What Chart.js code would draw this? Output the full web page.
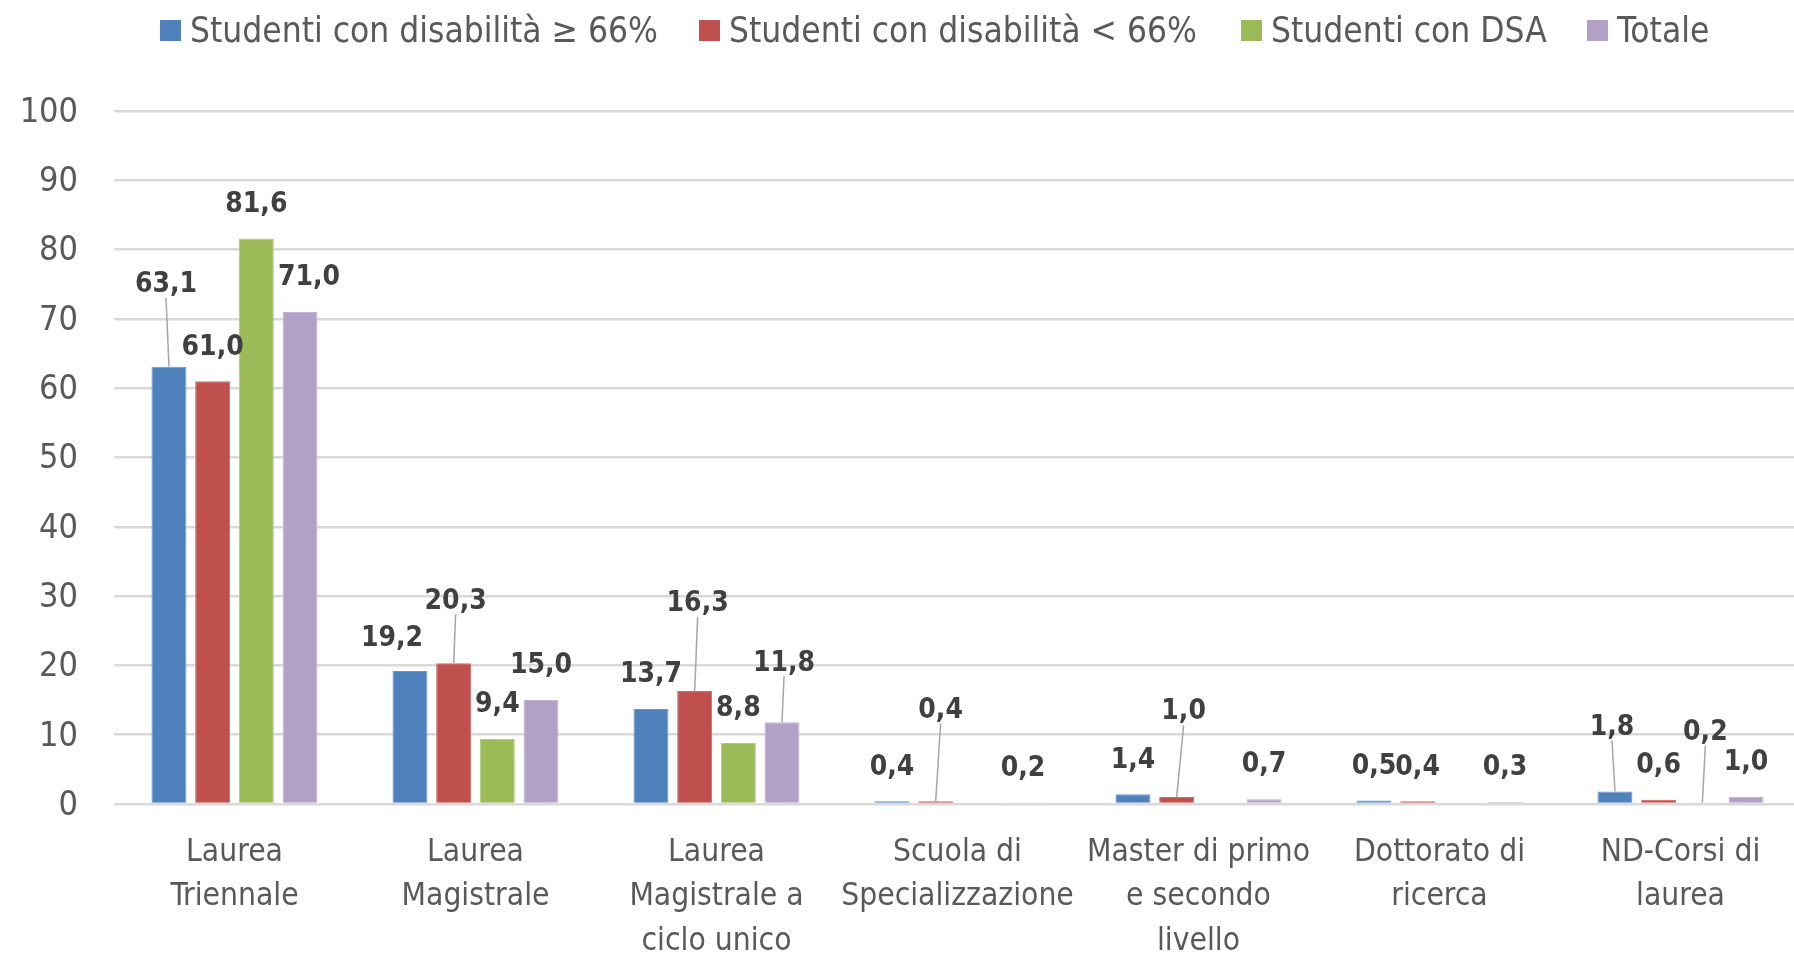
<!DOCTYPE html>
<html lang="it">
<head>
<meta charset="utf-8">
<title>Studenti con disabilità e con DSA per tipo di corso</title>
<script src="https://cdn.jsdelivr.net/npm/chart.js@4.4.1/dist/chart.umd.min.js"></script>
<style>
  html, body { margin: 0; padding: 0; background: #ffffff; overflow: hidden; }
  #wrap { width: 1794px; height: 953px; overflow: hidden; }
</style>
</head>
<body>
<div id="wrap"><canvas id="chart" width="1801" height="953"></canvas></div>
<script>
// Data
const categories = [
    ['Laurea', 'Triennale'],
    ['Laurea', 'Magistrale'],
    ['Laurea', 'Magistrale a', 'ciclo unico'],
    ['Scuola di', 'Specializzazione'],
    ['Master di primo', 'e secondo', 'livello'],
    ['Dottorato di', 'ricerca'],
    ['ND-Corsi di', 'laurea']
];
const seriesNames = ['Studenti con disabilità ≥ 66%', 'Studenti con disabilità < 66%', 'Studenti con DSA', 'Totale'];
const disabOver66 = [63.1, 19.2, 13.7, 0.4, 1.4, 0.5, 1.8];
const disabUnder66 = [61.0, 20.3, 16.3, 0.4, 1.0, 0.4, 0.6];
const conDSA = [81.6, 9.4, 8.8, null, null, null, 0.2];
const totale = [71.0, 15.0, 11.8, 0.2, 0.7, 0.3, 1.0];
const yTicks = [0, 10, 20, 30, 40, 50, 60, 70, 80, 90, 100];

// Styles
const FONT = "'DejaVu Sans Condensed', 'Liberation Sans Narrow', 'DejaVu Sans', sans-serif";
const colors = ['#4f81bd', '#c0504d', '#9bbb59', '#b2a1c7'];
const borders = ['#6a96cc', '#cd6b68', '#aecb78', '#c2b4d3'];
const textGray = '#595959';
const labelGray = '#404040';
const legendX = [160, 699, 1241, 1587];

// Data labels that Excel moved away from the bar: [dx, dy, leader line]
const labelMoves = {
    '0-0': [-3, -48, true],
    '0-1': [-18, 2, false],
    '1-1': [2, -28, true],
    '1-2': [3, -53, true],
    '3-2': [2, -25, true],
    '1-3': [5, -57, true],
    '1-4': [7, -51, true],
    '0-6': [-3, -30, true],
    '2-6': [3, -36, true],
    '3-0': [9, 0, false]
};

function fmt(v) {
    return v.toFixed(1).replace('.', ',');
}

// Legend on top
const topLegend = {
    id: 'topLegend',
    afterDraw(chart) {
        const ctx = chart.ctx;
        ctx.save();
        ctx.font = '35px ' + FONT;
        ctx.textBaseline = 'middle';
        const y = 30;
        chart.data.datasets.forEach((ds, k) => {
            const x = legendX[k];
            ctx.fillStyle = ds.backgroundColor;
            ctx.fillRect(x, y - 10, 21, 21);
            ctx.fillStyle = textGray;
            ctx.fillText(ds.label, x + 30, y + 3);
        });
        ctx.restore();
    }
};

// Value labels above bars
const valueLabels = {
    id: 'valueLabels',
    afterDatasetsDraw(chart) {
        const ctx = chart.ctx;
        ctx.save();
        ctx.font = 'bold 28px ' + FONT;
        ctx.textAlign = 'center';
        ctx.textBaseline = 'middle';
        chart.data.datasets.forEach((ds, di) => {
            const meta = chart.getDatasetMeta(di);
            meta.data.forEach((bar, i) => {
                const v = ds.data[i];
                if (v === null || v === undefined) return;
                const move = labelMoves[di + '-' + i] || [0, 0, false];
                const lx = bar.x + move[0];
                const ly = bar.y - 34 + move[1];
                if (move[2]) {
                    ctx.strokeStyle = '#a6a6a6';
                    ctx.lineWidth = 1.5;
                    ctx.beginPath();
                    ctx.moveTo(bar.x, bar.y);
                    ctx.lineTo(lx, ly + 13);
                    ctx.stroke();
                }
                ctx.fillStyle = labelGray;
                ctx.fillText(fmt(v), lx, ly);
            });
        });
        ctx.restore();
    }
};

const allSeries = [disabOver66, disabUnder66, conDSA, totale];

new Chart(document.getElementById('chart'), {
    type: 'bar',
    data: {
        labels: categories,
        datasets: allSeries.map((values, k) => ({
            label: seriesNames[k],
            data: values,
            backgroundColor: colors[k],
            borderColor: borders[k],
            borderWidth: 1,
            categoryPercentage: 0.725,
            barPercentage: 0.8
        }))
    },
    options: {
        responsive: false,
        animation: false,
        devicePixelRatio: 1,
        layout: { padding: { top: 111, right: 0, bottom: 0, left: 0 } },
        plugins: {
            legend: { display: false },
            tooltip: { enabled: false }
        },
        scales: {
            x: {
                grid: { display: false, drawTicks: false },
                border: { display: false },
                ticks: {
                    color: textGray,
                    font: { family: FONT, size: 31.5, lineHeight: 1.42 },
                    padding: 26,
                    maxRotation: 0,
                    autoSkip: false
                },
                afterFit(scale) { scale.height = 149; }
            },
            y: {
                min: 0,
                max: 100,
                afterBuildTicks(scale) {
                    scale.ticks = yTicks.map(v => ({ value: v }));
                },
                grid: { color: '#d9d9d9', lineWidth: 2.5, drawTicks: false },
                border: { display: false },
                ticks: {
                    color: textGray,
                    font: { family: FONT, size: 34 },
                    padding: 36,
                    labelOffset: 2
                },
                afterFit(scale) { scale.width = 114; }
            }
        }
    },
    plugins: [topLegend, valueLabels]
});
</script>
</body>
</html>
